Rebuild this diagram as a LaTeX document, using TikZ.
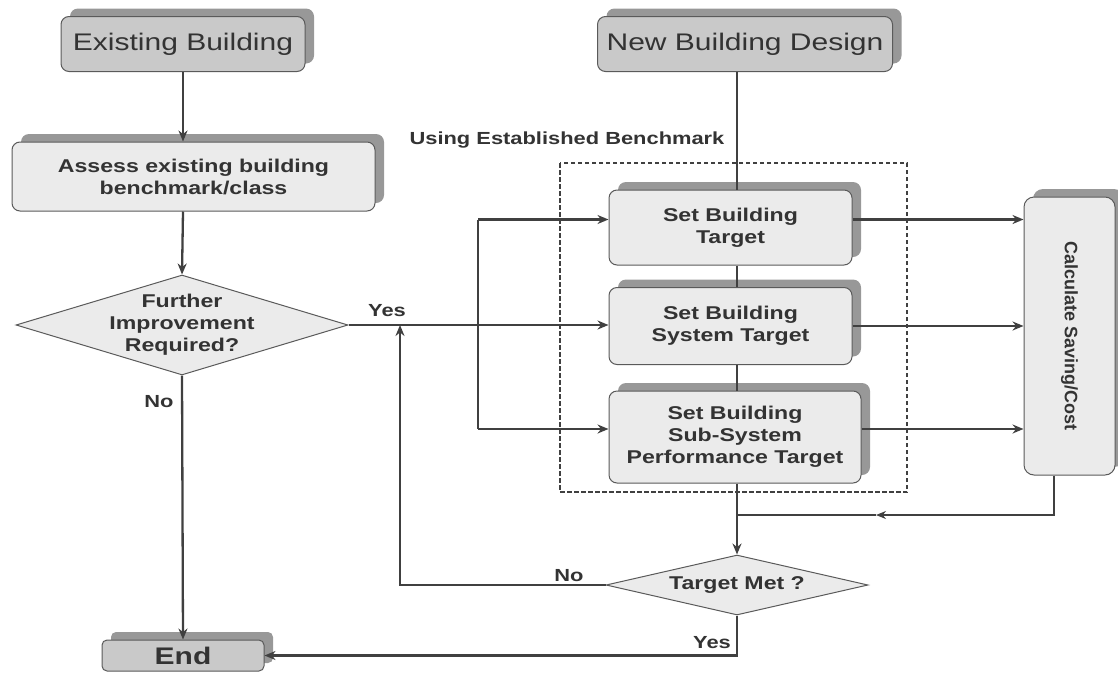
\documentclass[tikz,border=0pt]{standalone}
\usepackage{fontspec}
\setmainfont[FakeStretch=1.25]{Liberation Sans}
\newfontfamily\plainsans{Liberation Sans}
\usetikzlibrary{shapes.geometric,shadows,arrows.meta}
\definecolor{midfill}{HTML}{C9C9C9}
\definecolor{lightfill}{HTML}{EBEBEB}
\definecolor{shadegray}{HTML}{989898}
\definecolor{edgegray}{HTML}{5A5A5A}
\definecolor{linegray}{HTML}{404040}
\definecolor{txtgray}{HTML}{333333}
\tikzset{
  boxbase/.style={rectangle, rounded corners=8pt, draw=edgegray, line width=1pt,
    text=txtgray, align=center, inner sep=0pt,
    general shadow={fill=shadegray, shadow xshift=9pt, shadow yshift=8pt}},
  topbox/.style={boxbase, fill=midfill, font=\fontsize{24}{28}\selectfont},
  stepbox/.style={boxbase, fill=lightfill, font=\bfseries\fontsize{18.5}{22}\selectfont},
  decision/.style={diamond, draw=edgegray, line width=1pt, fill=lightfill, inner sep=0pt,
    text=txtgray, align=center, font=\bfseries\fontsize{18.5}{22}\selectfont},
  lbl/.style={text=txtgray, inner sep=0pt, font=\bfseries\fontsize{17.5}{21}\selectfont},
  flow/.style={draw=linegray, line width=2.3pt},
  arr/.style={flow, -{Stealth[length=11pt,width=9pt]}},
  thinflow/.style={draw=linegray, line width=1.1pt},
  dashbox/.style={draw=linegray, line width=1.3pt, dash pattern=on 4.5pt off 2.5pt}
}
\begin{document}
\begin{tikzpicture}[x=1pt,y=-1pt]
\useasboundingbox (0,0) rectangle (1118,672);

% boxes
\node[topbox, minimum width=244pt, minimum height=55pt] (eb) at (183,44) {Existing Building};
\node[topbox, minimum width=295pt, minimum height=55pt] (nb) at (745,44) {New Building Design};
\node[stepbox, minimum width=363pt, minimum height=69pt] (assess) at (193.5,176.5) {Assess existing building\\benchmark/class};
\node[decision, aspect=3.32, inner xsep=-12pt, inner ysep=-6pt, minimum width=332pt, minimum height=100pt] (fir) at (182,325) {Further\\Improvement\\Required?};
\node[topbox, minimum width=162pt, minimum height=31pt, rounded corners=5pt,
      font=\bfseries\fontsize{24}{28}\selectfont] (end) at (183,655.5) {End};

\node[stepbox, minimum width=243pt, minimum height=75pt] (sbt) at (730.5,227.5) {Set Building\\Target};
\node[stepbox, minimum width=243pt, minimum height=77pt] (sbst) at (730.5,326) {Set Building\\System Target};
\node[stepbox, minimum width=252pt, minimum height=92pt] (sbsub) at (735,437) {Set Building\\Sub-System\\Performance Target};

\node[stepbox, minimum width=91pt, minimum height=278pt, rounded corners=10pt] (calc) at (1069.5,336)
  {\rotatebox{-90}{\plainsans\bfseries\fontsize{18}{22}\selectfont Calculate Saving/Cost}};

\node[decision, aspect=4.37, minimum width=262pt, minimum height=60pt] (tm) at (737,585) {Target Met ?};

% benchmark frame
\draw[dashbox] (560,163) rectangle (907,492);
\node[lbl] (ueb) at (567,140) {Using Established Benchmark};

% helper coordinates
\coordinate (cx) at (737,0);
\coordinate (vx) at (478,0);
\coordinate (nx) at (400,0);
\coordinate (fb1) at (1054,515);
\coordinate (fbm) at (876,515);
\coordinate (fb2) at (737,515);
\path ([yshift=8pt]sbt.west) coordinate (sbtin);
\path ([yshift=8pt]sbsub.west) coordinate (subin);

% left column
\draw[arr] (eb.south) -- (eb.south |- assess.north);
\draw[arr] (assess.south -| eb.south) -- (fir.north);
\draw[arr] (fir.south) -- (end.north);
\node[lbl] (nolbl1) at (159,402) {No};

% yes branch
\draw[arr] (fir.east) -- (fir.east -| sbst.west);
\node[lbl] (yeslbl1) at (387,311) {Yes};
\draw[flow] (vx |- sbtin) -- (vx |- subin);
\draw[arr] (vx |- sbtin) -- (sbtin);
\draw[arr] (vx |- subin) -- (subin);

% central spine
\draw[flow, line width=1.8pt] (nb.south -| cx) -- (sbt.north -| cx);
\draw[flow, line width=1.8pt] (sbt.south -| cx) -- (sbst.north -| cx);
\draw[flow, line width=1.8pt] (sbst.south -| cx) -- (sbsub.north -| cx);
\draw[arr] (sbsub.south -| cx) -- (tm.north);

% to calculate
\draw[arr] ([yshift=8pt]sbt.east) -- ([yshift=8pt]sbt.east -| calc.west);
\draw[arr] (sbst.east) -- (sbst.east -| calc.west);
\draw[arr] ([yshift=8pt]sbsub.east) -- ([yshift=8pt]sbsub.east -| calc.west);

% feedback from calculate
\draw[thinflow, -{Stealth[length=10pt,width=8pt]}] (calc.south -| fb1) -- (fb1) -- (fbm);
\draw[thinflow] (fbm) -- (fb2);

% target met branches
\draw[arr] (tm.west) -| (nx |- fir.east);
\node[lbl] (nolbl2) at (569,576) {No};
\draw[arr] (tm.south) |- (end.east);
\node[lbl] (yeslbl2) at (712,643) {Yes};
\end{tikzpicture}
\end{document}
